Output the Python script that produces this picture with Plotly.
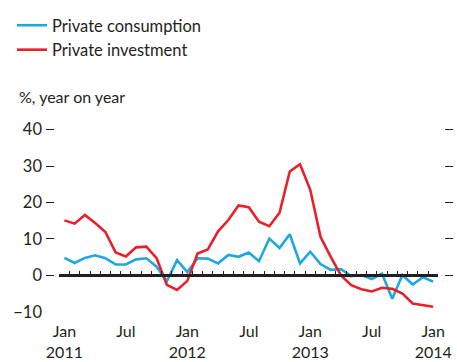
import plotly.graph_objects as go

# Month labels (Jan 2011 .. Jan 2014), one per data point
months = ["2011-01","2011-02","2011-03","2011-04","2011-05","2011-06","2011-07","2011-08","2011-09","2011-10","2011-11","2011-12",
          "2012-01","2012-02","2012-03","2012-04","2012-05","2012-06","2012-07","2012-08","2012-09","2012-10","2012-11","2012-12",
          "2013-01","2013-02","2013-03","2013-04","2013-05","2013-06","2013-07","2013-08","2013-09","2013-10","2013-11","2013-12",
          "2014-01"]

private_consumption = [4.8, 3.4, 4.8, 5.5, 4.7, 3.0, 3.0, 4.4, 4.7, 2.4, -1.6, 4.2, 0.9, 4.7, 4.6, 3.3, 5.6, 5.1, 6.3, 3.9, 10.1, 7.5, 11.3, 3.3, 6.5, 3.1, 1.5, 1.7, -0.2, 0.1, -1.0, 0.5, -6.4, 0.1, -2.5, -0.5, -1.7]
private_investment = [15.1, 14.2, 16.6, 14.4, 11.9, 6.3, 5.2, 7.7, 7.9, 4.7, -2.6, -4.0, -1.5, 6.0, 7.1, 12.1, 15.2, 19.2, 18.7, 14.7, 13.5, 17.2, 28.5, 30.5, 23.5, 10.6, 5.1, 0.0, -2.7, -3.8, -4.4, -3.4, -3.7, -5.0, -7.7, -8.1, -8.6]

y_ticks = [-10, 0, 10, 20, 30, 40]
x_tick_pos = [0, 6, 12, 18, 24, 30, 36]
x_tick_text = ["Jan<br>2011", "Jul", "Jan<br>2012", "Jul", "Jan<br>2013", "Jul", "Jan<br>2014"]

idx = list(range(len(months)))
BLUE = "#1fa8e0"
RED = "#e8202a"
INK = "#231f20"
FONT = "Lato"

fig = go.Figure()
fig.add_trace(go.Scatter(x=idx, y=private_consumption, mode="lines", name="Private consumption",
                         line=dict(color=BLUE, width=2.6), hoverinfo="skip"))
fig.add_trace(go.Scatter(x=idx, y=private_investment, mode="lines", name="Private investment",
                         line=dict(color=RED, width=2.6), hoverinfo="skip"))
# helper traces so overlay axes are drawn
fig.add_trace(go.Scatter(x=[], y=[], xaxis="x2", yaxis="y", showlegend=False))
fig.add_trace(go.Scatter(x=[], y=[], xaxis="x", yaxis="y2", showlegend=False))

xr = [-0.5, len(months) - 0.5]
yr = [-10.05, 41.0]
dom = [0.035, 0.964]
T, B = 126, 50
H = 362 - T - B

fig.update_layout(
    width=457, height=362,
    margin=dict(l=45, r=4, t=T, b=B, autoexpand=False),
    paper_bgcolor="white", plot_bgcolor="white",
    font=dict(family=FONT, size=16, color=INK),
    showlegend=True,
    legend=dict(x=(12 - 45) / 408, y=1 + (T - 8) / H, xanchor="left", yanchor="top",
                bgcolor="rgba(0,0,0,0)", itemwidth=30, font=dict(size=16.5, color=INK),
                borderwidth=0),
    xaxis=dict(domain=dom, range=xr, tickvals=x_tick_pos, ticktext=x_tick_text,
               showline=False, ticks="", showgrid=False, zeroline=False, automargin=False,
               tickfont=dict(size=16, color=INK), ticklabelstandoff=8, anchor="y"),
    xaxis2=dict(overlaying="x", anchor="free", position=(0 - yr[0]) / (yr[1] - yr[0]),
                range=xr, tickvals=[i - 0.5 for i in range(len(months) + 1)],
                ticks="inside", ticklen=4, tickwidth=1.2, tickcolor=INK,
                showline=True, linecolor=INK, linewidth=2.5, automargin=False,
                showticklabels=False, showgrid=False, zeroline=False),
    yaxis=dict(domain=[0, 1], range=yr, tickvals=y_ticks, anchor="free", position=0,
               ticks="inside", ticklen=8, tickwidth=1.3, tickcolor=INK, automargin=False,
               showline=False, showgrid=False, zeroline=False, ticklabelstandoff=3,
               tickfont=dict(size=16.5, color=INK)),
    yaxis2=dict(overlaying="y", side="right", anchor="free", position=1, range=yr,
                tickvals=y_ticks, ticks="inside", ticklen=8, tickwidth=1.3, tickcolor=INK,
                automargin=False,
                showline=False, showgrid=False, zeroline=False, showticklabels=False),
    annotations=[dict(text="%, year on year", xref="paper", yref="paper",
                      x=(17 - 45) / 408, y=1 + (T - 97) / H, xanchor="left", yanchor="middle",
                      showarrow=False, font=dict(size=16, color=INK))],
)

fig.write_html("out.html", config={"displayModeBar": False},
               post_script="document.body.style.margin='0';")
